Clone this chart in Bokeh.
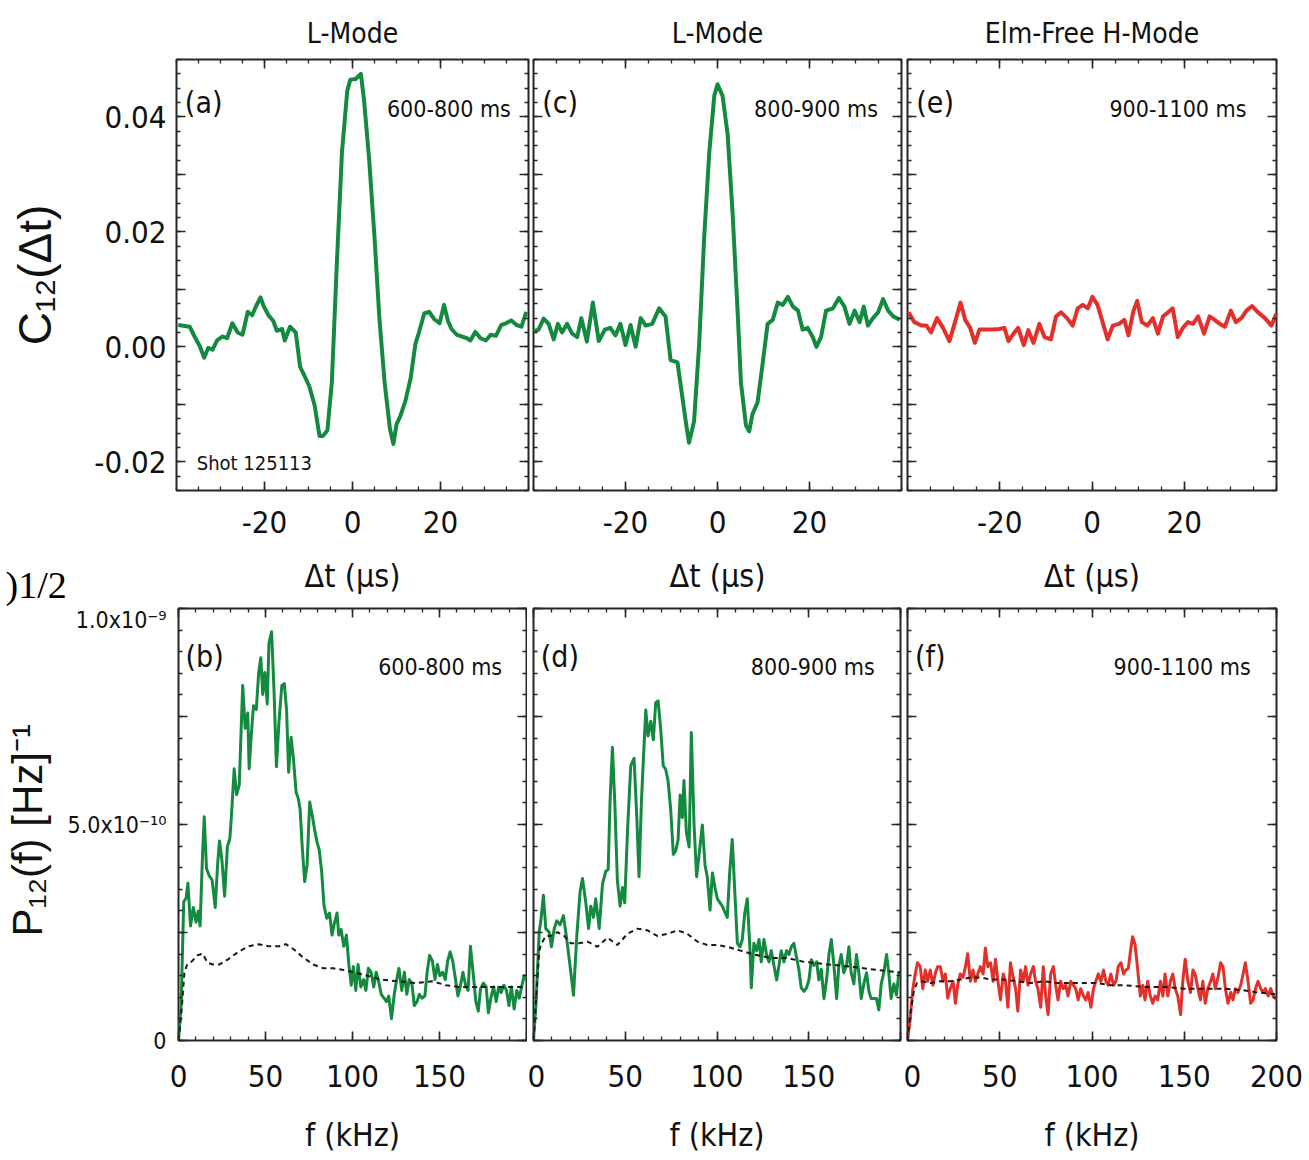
from bokeh.plotting import figure
from bokeh.models import Range1d, FixedTicker, LinearAxis, Label, Title
from bokeh.layouts import row, column
from bokeh.embed import file_html
from bokeh.resources import INLINE
import numpy as np

# ---------------- data ----------------
# (a) L-Mode 600-800 ms, cross-correlation C12(dt)
dt_a = [-39.6, -37.0, -35.9, -34.7, -33.7, -32.8, -31.8, -30.8, -29.6, -28.5, -27.3, -26.1, -25.0, -23.8,
        -22.8, -21.9, -20.9, -20.2, -19.1, -18.0, -17.2, -16.0, -15.4, -14.2, -12.9, -11.9, -11.0, -9.8,
        -8.6, -7.5, -6.7, -5.7, -4.7, -3.6, -2.4, -1.2, -0.5, 0.7, 1.9, 2.6, 3.8, 5.0, 6.1, 7.3, 8.5, 9.3,
        10.0, 10.8, 12.0, 13.2, 14.3, 15.1, 16.3, 17.4, 18.6, 19.8, 20.8, 21.7, 22.5, 23.7, 24.8, 26.0,
        26.8, 27.9, 29.1, 30.3, 31.4, 32.6, 33.8, 34.9, 36.1, 37.3, 38.4, 39.5]
c12_a = [0.0038, 0.0035, 0.0018, 0.0001, -0.0019, -0.0002, -0.0005, 0.0011, 0.0018, 0.0015, 0.0041, 0.0025,
         0.0021, 0.0061, 0.0055, 0.0071, 0.0086, 0.0071, 0.0055, 0.0045, 0.0028, 0.0031, 0.0011, 0.0035,
         0.0025, -0.0035, -0.0049, -0.0069, -0.0102, -0.0155, -0.0155, -0.0145, -0.0062, 0.0138, 0.0338,
         0.0445, 0.0465, 0.0466, 0.0475, 0.0431, 0.0325, 0.0191, 0.0051, -0.0062, -0.0142, -0.0169, -0.0135,
         -0.0122, -0.0095, -0.0055, 0.0005, 0.0025, 0.0058, 0.0061, 0.0048, 0.0041, 0.0073, 0.0045, 0.0031,
         0.0021, 0.0018, 0.0015, 0.0011, 0.0026, 0.0015, 0.0011, 0.0021, 0.0019, 0.0038, 0.0041, 0.0046,
         0.0038, 0.0035, 0.0061]

# (c) L-Mode 800-900 ms
dt_c = [-40.0, -38.9, -37.8, -36.7, -35.6, -34.7, -33.8, -32.7, -31.6, -30.5, -29.6, -28.4, -27.1, -25.8,
        -24.5, -23.3, -22.2, -21.1, -20.0, -18.9, -17.8, -16.7, -15.6, -14.2, -12.7, -11.3, -10.2, -8.7,
        -7.6, -6.9, -6.2, -5.1, -4.0, -2.9, -1.8, -0.7, 0.0, 1.1, 2.2, 3.3, 4.4, 5.1, 6.2, 6.9, 7.6, 8.7,
        9.8, 10.9, 12.0, 13.1, 14.2, 15.3, 16.4, 17.5, 18.5, 19.6, 20.7, 21.5, 22.5, 23.6, 25.1, 26.4, 27.6,
        28.7, 29.8, 30.9, 31.8, 32.7, 33.8, 34.9, 36.0, 37.1, 38.2, 39.6]
c12_c = [0.0027, 0.0030, 0.0049, 0.0040, 0.0013, 0.0040, 0.0025, 0.0040, 0.0023, 0.0017, 0.0050, 0.0009,
         0.0077, 0.0010, 0.0030, 0.0033, 0.0020, 0.0040, 0.0003, 0.0038, 0.0000, 0.0050, 0.0037, 0.0040,
         0.0067, 0.0053, -0.0023, -0.0027, -0.0090, -0.0130, -0.0167, -0.0130, 0.0003, 0.0190, 0.0337,
         0.0437, 0.0457, 0.0437, 0.0370, 0.0230, 0.0057, -0.0063, -0.0137, -0.0147, -0.0117, -0.0097,
         -0.0030, 0.0040, 0.0047, 0.0077, 0.0073, 0.0087, 0.0070, 0.0063, 0.0030, 0.0033, 0.0017, 0.0000,
         0.0017, 0.0063, 0.0067, 0.0085, 0.0070, 0.0040, 0.0063, 0.0043, 0.0070, 0.0037, 0.0050, 0.0060,
         0.0083, 0.0063, 0.0053, 0.0047]

# (e) ELM-free H-Mode 900-1100 ms
dt_e = [-39.8, -38.5, -37.0, -35.9, -34.9, -33.6, -32.3, -30.9, -29.7, -28.5, -27.5, -26.4, -25.4, -24.4,
        -23.0, -21.6, -20.1, -19.0, -18.1, -17.0, -16.0, -14.8, -13.8, -12.7, -11.4, -10.3, -8.9, -7.8,
        -6.7, -5.4, -4.2, -3.1, -2.0, -0.9, 0.1, 1.2, 2.3, 3.4, 4.5, 5.9, 7.0, 7.9, 9.0, 9.8, 10.8, 12.0,
        13.2, 14.3, 15.4, 16.5, 17.5, 18.6, 19.7, 20.8, 21.9, 23.0, 24.3, 25.5, 26.6, 27.7, 28.8, 30.1,
        31.2, 32.4, 33.5, 34.7, 36.0, 37.5, 38.9, 40.0]
c12_e = [0.0060, 0.0043, 0.0037, 0.0037, 0.0025, 0.0050, 0.0033, 0.0010, 0.0043, 0.0077, 0.0047, 0.0033,
         0.0007, 0.0030, 0.0030, 0.0030, 0.0031, 0.0033, 0.0010, 0.0023, 0.0033, 0.0003, 0.0029, 0.0007,
         0.0040, 0.0017, 0.0013, 0.0053, 0.0060, 0.0050, 0.0037, 0.0067, 0.0073, 0.0067, 0.0087, 0.0073,
         0.0043, 0.0013, 0.0037, 0.0040, 0.0047, 0.0020, 0.0063, 0.0080, 0.0043, 0.0037, 0.0050, 0.0023,
         0.0053, 0.0060, 0.0067, 0.0017, 0.0033, 0.0043, 0.0040, 0.0053, 0.0023, 0.0053, 0.0047, 0.0040,
         0.0035, 0.0063, 0.0043, 0.0050, 0.0063, 0.0071, 0.0060, 0.0050, 0.0037, 0.0058]

# (b) cross-power P12(f), in units of 1e-10 Hz^-1
f_b = [0, 1.5, 3.0, 4.4, 5.4, 6.9, 8.5, 10.1, 11.4, 12.4, 13.8, 14.8, 16.1, 17.7, 19.3, 21.1, 22.6, 23.6,
       25.0, 26.5, 28.1, 29.5, 30.4, 32.0, 33.4, 34.9, 36.9, 38.3, 39.8, 40.6, 41.8, 43.1, 44.7, 46.1, 47.3,
       48.4, 49.6, 51.0, 52.0, 53.5, 54.9, 56.3, 57.8, 59.4, 60.8, 62.1, 63.3, 64.7, 66.0, 67.6, 68.8, 69.9,
       71.1, 72.5, 73.9, 75.4, 77.0, 78.4, 79.7, 80.9, 82.3, 83.6, 85.2, 86.8, 88.2, 89.5, 91.1, 92.1, 93.4,
       95.0, 96.5, 97.9, 99.3, 100.5, 101.9, 103.2, 104.8, 106.4, 107.7, 109.1, 110.7, 112.2, 113.6, 115.0,
       116.5, 118.1, 119.5, 120.8, 122.4, 124.0, 125.4, 126.7, 128.3, 129.8, 131.2, 132.6, 134.1, 135.5,
       137.1, 138.4, 140.0, 141.6, 142.9, 144.3, 145.9, 147.4, 148.8, 150.2, 151.8, 153.3, 154.7, 156.1,
       157.6, 159.2, 160.6, 161.9, 163.5, 165.0, 166.4, 167.8, 169.3, 170.9, 172.3, 173.6, 175.2, 176.8,
       178.1, 179.5, 181.1, 182.6, 184.0, 185.4, 187.0, 188.5, 189.9, 191.3, 192.9, 194.4, 195.8, 197.2,
       198.7, 199.7]
p12_b = [0, 0.81, 3.21, 3.30, 3.64, 2.65, 3.08, 2.74, 3.00, 2.65, 4.28, 5.18, 3.98, 3.81, 3.72, 3.08, 4.15,
         4.62, 4.15, 3.34, 4.49, 4.67, 5.18, 6.29, 5.69, 5.91, 8.22, 7.23, 7.58, 6.29, 7.06, 7.75, 7.66, 8.52,
         8.86, 8.01, 8.52, 7.79, 9.20, 9.46, 8.09, 6.34, 7.41, 8.22, 8.26, 7.66, 6.21, 7.02, 6.55, 5.74, 5.61,
         5.35, 4.49, 3.68, 4.07, 5.52, 5.18, 4.84, 4.58, 4.41, 3.90, 3.13, 2.83, 2.95, 2.44, 2.70, 2.95, 2.44,
         2.57, 2.18, 2.44, 1.76, 1.28, 1.71, 1.16, 1.76, 1.24, 1.41, 1.16, 1.67, 1.58, 1.24, 1.58, 1.37, 1.07,
         0.98, 0.90, 1.03, 0.51, 1.07, 1.41, 1.67, 1.16, 1.58, 1.07, 1.41, 1.33, 0.81, 0.90, 1.07, 0.98, 1.03,
         1.58, 1.97, 1.84, 1.41, 1.76, 1.50, 1.58, 1.41, 1.84, 2.05, 1.84, 1.41, 1.03, 1.24, 1.58, 1.28, 1.16,
         2.18, 1.58, 0.90, 0.68, 1.20, 1.33, 1.24, 0.64, 0.98, 1.24, 0.90, 1.24, 1.11, 1.28, 1.16, 0.81, 1.24,
         0.73, 1.16, 0.98, 1.24, 1.50, 1.41]
fn_b = [0, 2.0, 3.4, 5.0, 7.9, 10.8, 13.8, 16.7, 19.7, 23.6, 28.5, 34.3, 40.2, 46.1, 51.9, 57.8, 61.7, 66.6,
        71.4, 77.4, 83.3, 89.1, 95.0, 100.9, 108.7, 116.5, 126.3, 136.1, 145.9, 153.7, 161.5, 171.3, 181.1,
        190.9, 199.7]
noise_b = [0, 0.81, 1.58, 1.76, 1.84, 1.97, 2.01, 1.80, 1.76, 1.76, 1.88, 2.05, 2.18, 2.23, 2.18, 2.18, 2.23,
           2.10, 1.93, 1.76, 1.67, 1.67, 1.63, 1.58, 1.50, 1.41, 1.37, 1.33, 1.37, 1.28, 1.24, 1.24, 1.24,
           1.24, 1.24]

# (d)
f_d = [0, 1.3, 3.1, 4.0, 5.4, 6.7, 8.5, 9.8, 11.3, 12.7, 14.5, 16.3, 17.6, 19.4, 21.8, 23.6, 25.4, 26.7,
       28.5, 30.0, 31.2, 32.7, 33.9, 35.8, 37.6, 39.4, 40.7, 41.7, 43.0, 44.3, 45.7, 47.2, 48.5, 49.7, 51.2,
       53.0, 54.8, 56.3, 57.5, 58.8, 59.9, 61.2, 62.4, 63.9, 65.3, 66.6, 67.9, 69.3, 70.7, 72.0, 73.3, 74.8,
       76.2, 77.5, 78.8, 79.9, 81.1, 82.0, 83.3, 84.8, 86.0, 87.5, 88.9, 90.7, 92.0, 93.5, 94.7, 96.2, 97.5,
       98.9, 100.2, 101.6, 102.9, 104.2, 105.6, 106.9, 108.3, 109.8, 111.1, 112.5, 113.8, 115.1, 116.5,
       118.0, 118.7, 120.1, 121.6, 122.9, 124.1, 125.6, 127.0, 128.3, 129.6, 131.0, 132.5, 133.8, 135.0,
       136.5, 137.9, 139.2, 140.5, 141.9, 143.4, 144.6, 145.9, 147.4, 148.8, 150.1, 151.4, 152.8, 154.3,
       155.5, 156.8, 158.3, 159.7, 161.0, 162.3, 163.7, 165.2, 166.4, 167.7, 169.1, 170.6, 171.9, 173.1,
       174.6, 176.0, 177.3, 178.6, 180.0, 181.5, 182.8, 184.0, 185.5, 186.9, 188.2, 189.5, 190.9, 192.4,
       193.6, 194.9, 196.4, 197.8, 199.1, 200.0]
p12_d = [0, 0.80, 2.51, 2.77, 3.36, 2.59, 2.51, 2.17, 2.59, 2.77, 2.68, 2.89, 2.51, 1.91, 1.05, 2.42, 3.45,
         3.75, 3.19, 2.59, 3.11, 2.85, 3.28, 2.59, 3.62, 3.92, 3.96, 5.51, 6.79, 5.51, 3.71, 3.11, 3.54, 3.19,
         4.82, 6.36, 6.53, 5.16, 3.79, 5.51, 6.53, 7.65, 7.05, 7.39, 6.96, 7.82, 7.86, 7.22, 6.36, 6.28, 6.02,
         5.33, 4.31, 4.39, 4.65, 5.68, 5.16, 6.02, 4.82, 4.48, 7.13, 4.99, 3.79, 4.48, 4.99, 4.05, 3.79, 3.02,
         3.88, 3.54, 3.28, 3.19, 3.11, 2.98, 2.85, 3.88, 4.65, 3.36, 2.25, 2.17, 2.34, 2.94, 3.28, 2.08, 1.22,
         2.25, 2.08, 2.34, 1.82, 2.34, 1.99, 1.82, 2.08, 1.74, 1.40, 1.74, 2.08, 1.82, 2.08, 1.99, 2.17, 2.25,
         1.91, 1.65, 1.22, 1.14, 1.22, 1.40, 1.87, 1.74, 1.82, 1.40, 1.65, 0.97, 1.40, 1.99, 2.34, 1.74, 0.97,
         1.74, 1.99, 1.57, 1.74, 2.17, 1.57, 1.31, 1.99, 1.57, 0.97, 1.31, 1.57, 1.14, 0.97, 0.97, 0.97, 0.71,
         1.31, 1.57, 1.99, 1.57, 0.97, 1.31, 1.05, 1.57, 1.48]
fn_d = [0, 1.8, 3.1, 4.4, 6.7, 9.4, 13.1, 16.7, 20.3, 24.9, 29.4, 34.8, 40.3, 45.7, 51.2, 56.6, 62.1, 67.5,
        73.0, 78.4, 83.8, 89.3, 94.7, 100.2, 105.6, 112.9, 120.1, 129.2, 138.3, 147.4, 156.4, 165.5, 174.6,
        183.7, 192.7, 200.0]
noise_d = [0, 1.22, 2.08, 2.25, 2.42, 2.42, 2.51, 2.42, 2.25, 2.25, 2.29, 2.17, 2.38, 2.21, 2.47, 2.59, 2.55,
           2.42, 2.47, 2.55, 2.47, 2.29, 2.21, 2.21, 2.17, 2.08, 1.99, 1.91, 1.91, 1.82, 1.78, 1.74, 1.70,
           1.65, 1.61, 1.57]

# (f)
f_f = [0, 1.5, 2.9, 4.2, 5.4, 6.9, 8.3, 9.6, 10.9, 12.3, 13.8, 15.0, 16.3, 17.8, 19.2, 20.5, 21.8, 23.2,
       24.7, 26.0, 27.2, 28.6, 30.1, 31.4, 32.6, 34.1, 35.5, 36.8, 38.1, 39.5, 41.0, 42.2, 43.5, 45.0, 46.4,
       47.7, 49.0, 50.4, 51.9, 53.1, 54.4, 55.8, 57.3, 58.6, 59.8, 61.3, 62.7, 64.0, 65.3, 66.7, 68.2, 69.4,
       70.7, 72.2, 73.6, 74.9, 76.2, 77.6, 79.1, 80.3, 81.6, 83.0, 84.5, 85.8, 87.0, 88.5, 89.9, 91.2, 92.5,
       93.9, 95.4, 96.6, 97.9, 99.4, 100.8, 102.1, 103.4, 104.8, 106.3, 107.5, 108.8, 110.2, 111.7, 113.0,
       114.2, 115.7, 117.1, 118.4, 119.7, 120.8, 122.0, 123.3, 124.8, 126.2, 127.5, 128.7, 130.2, 131.6,
       132.9, 134.2, 135.6, 137.1, 138.4, 139.6, 141.1, 142.5, 143.8, 145.1, 146.5, 148.0, 149.2, 150.5,
       152.0, 153.4, 154.7, 155.9, 157.4, 158.8, 160.1, 161.4, 162.8, 164.3, 165.5, 166.8, 168.3, 169.7,
       171.0, 172.3, 173.7, 175.2, 176.4, 177.7, 179.1, 180.6, 181.9, 183.1, 184.6, 186.0, 187.3, 188.6,
       190.0, 191.5, 192.7, 194.0, 195.5, 196.9, 198.2, 200.0]
p12_f = [0, 0.51, 1.20, 1.54, 1.80, 1.71, 1.20, 1.63, 1.37, 1.63, 1.28, 1.54, 1.71, 1.71, 1.37, 1.54, 0.98,
         1.20, 1.37, 0.86, 1.28, 1.54, 1.46, 1.71, 2.01, 1.37, 1.63, 1.37, 1.54, 1.71, 1.54, 2.14, 1.71, 1.80,
         1.37, 1.88, 1.37, 0.94, 1.54, 1.37, 0.77, 1.80, 1.46, 1.20, 0.68, 1.63, 1.37, 1.71, 1.28, 1.54, 1.71,
         1.37, 1.20, 0.77, 1.71, 1.03, 0.60, 1.54, 1.71, 1.28, 0.94, 1.37, 1.20, 1.28, 1.03, 1.37, 1.28, 1.20,
         0.94, 1.20, 1.03, 0.94, 1.11, 0.77, 1.20, 1.37, 1.54, 1.37, 1.63, 1.37, 1.28, 1.54, 1.28, 1.37, 1.71,
         1.80, 1.54, 1.63, 1.67, 2.05, 2.40, 2.23, 1.63, 1.03, 1.28, 0.94, 1.37, 1.03, 0.86, 1.03, 0.94, 1.37,
         1.03, 1.54, 1.03, 1.37, 1.54, 1.20, 1.03, 0.60, 1.37, 1.88, 1.37, 1.11, 1.63, 1.54, 1.20, 0.94, 1.37,
         0.86, 1.20, 1.37, 1.54, 1.20, 1.46, 1.80, 1.71, 1.20, 0.86, 1.11, 0.94, 1.20, 1.11, 1.28, 1.54, 1.80,
         1.37, 0.86, 0.94, 1.20, 1.37, 1.20, 1.11, 1.20, 1.03, 1.20, 1.03, 0.94]
fn_f = [0, 1.5, 3.3, 5.1, 7.8, 12.3, 17.8, 23.2, 28.6, 34.1, 39.5, 45.0, 52.2, 59.5, 66.7, 74.0, 81.2, 88.5,
        95.7, 103.0, 110.2, 117.5, 128.4, 139.3, 150.1, 161.0, 171.9, 182.8, 190.0, 200.0]
noise_f = [0, 0.60, 1.11, 1.33, 1.37, 1.33, 1.37, 1.37, 1.41, 1.46, 1.46, 1.41, 1.41, 1.37, 1.33, 1.37, 1.33,
           1.33, 1.33, 1.33, 1.28, 1.28, 1.24, 1.24, 1.20, 1.20, 1.20, 1.16, 1.11, 1.07]

# tick labels
dt_ticks = [-20, 0, 20]
c12_tick_labels = {-0.02: "-0.02", -0.01: "", 0.0: "0.00", 0.01: "", 0.02: "0.02", 0.03: "", 0.04: "0.04"}
f_ticks = [0, 50, 100, 150, 200]
p12_tick_labels = {0.0: "0", 2.5: "", 5.0: "5.0x10\u207b\u00b9\u2070", 7.5: "", 10.0: "1.0x10\u207b\u2079"}

# ---------------- styling ----------------
NARROW = "'DejaVu Sans Condensed', 'Liberation Sans Narrow', sans-serif"
WIDE = "'Liberation Sans', Arial, sans-serif"
SERIF = "'Liberation Serif', 'DejaVu Serif', serif"
INK = "#262626"
TXT = "#111111"
GREEN = "#138a3f"
RED = "#e3302a"


def make_fig(width, height, bl, br, bt, bb, xr, yr, title=None):
    p = figure(width=width, height=height, x_range=Range1d(*xr), y_range=Range1d(*yr),
               output_backend="svg", toolbar_location=None,
               min_border_left=bl, min_border_right=br, min_border_top=bt, min_border_bottom=bb,
               x_axis_location=None, y_axis_location=None)
    p.grid.visible = False
    p.outline_line_color = INK
    p.outline_line_width = 2
    p.background_fill_color = "white"
    p.border_fill_color = "white"
    if title:
        p.title.text = title
        p.title.align = "center"
        p.title.text_font = NARROW
        p.title.text_font_size = "28px"
        p.title.text_font_style = "normal"
        p.title.text_color = TXT
        p.title.standoff = 19
    return p


def axis(ticks, minor, labels=None, font_size="32px", standoff=14, title=None,
         title_size="32px", title_standoff=14, title_font=NARROW, baseline=None):
    ax = LinearAxis(ticker=FixedTicker(ticks=ticks, minor_ticks=minor))
    ax.axis_line_color = None
    ax.major_tick_in = 9
    ax.major_tick_out = 0
    ax.minor_tick_in = 4
    ax.minor_tick_out = 0
    ax.major_tick_line_color = INK
    ax.major_tick_line_width = 1.6
    ax.minor_tick_line_color = INK
    ax.minor_tick_line_width = 1.3
    if labels is None:
        ax.major_label_text_font_size = "0px"
        ax.major_label_standoff = 0
        ax.major_label_text_color = None
    else:
        ax.major_label_overrides = labels
        ax.major_label_text_font = NARROW
        ax.major_label_text_font_size = font_size
        ax.major_label_text_color = TXT
        ax.major_label_standoff = standoff
        if baseline:
            ax.major_label_text_baseline = baseline
    if title:
        ax.axis_label = title
        ax.axis_label_text_font = title_font
        ax.axis_label_text_font_size = title_size
        ax.axis_label_text_font_style = "normal"
        ax.axis_label_text_color = TXT
        ax.axis_label_standoff = title_standoff
    return ax


def note(p, x, y, text, size, align="left", font=NARROW, baseline="middle"):
    p.add_layout(Label(x=x, y=y, text=text, text_font=font, text_font_size=size,
                       text_baseline=baseline, text_align=align, text_color=TXT))


dt_minor = list(range(-40, 41, 5))
c12_major = [-0.02, -0.01, 0.0, 0.01, 0.02, 0.03, 0.04]
c12_minor = [round(v, 4) for v in np.arange(-0.025, 0.0501, 0.0025)]
f_minor = list(range(0, 201, 10))
p12_major = [0.0, 2.5, 5.0, 7.5, 10.0]
p12_minor = [round(v, 2) for v in np.arange(0, 10.01, 0.5)]


def top_panel(width, bl, br, x, y, color, title, tag, window, wx, ylab=None, ytitle=None):
    p = make_fig(width, 606, bl, br, 59, 116, (-40, 40), (-0.025, 0.050), title)
    p.add_layout(axis(dt_ticks, dt_minor, labels={-20: "-20", 0: "0", 20: "20"},
                      font_size="31px", standoff=20, title="\u0394t (\u03bcs)", title_size="32px",
                      title_standoff=21), "below")
    p.add_layout(axis(dt_ticks, dt_minor), "above")
    p.add_layout(axis(c12_major, c12_minor, labels=ylab, font_size="31px", standoff=10,
                      title=ytitle, title_size="46px", title_standoff=30, title_font=WIDE), "left")
    p.add_layout(axis(c12_major, c12_minor), "right")
    p.line(x, y, line_color=color, line_width=4, line_join="round")
    note(p, -38.1, 0.0425, tag, "30px")
    note(p, wx, 0.0413, window, "23px", align="right")
    return p


fa = top_panel(530, 176, 2, dt_a, c12_a, GREEN, "L-Mode", "(a)", "600-800 ms", 36.0,
               ylab=c12_tick_labels, ytitle="C\u2081\u2082(\u0394t)")
note(fa, -35.4, -0.0203, "Shot 125113", "20px")
# stray fragment of neighbouring page text at the bottom-left corner of the top row
fa.add_layout(Title(text=")1/2\n\u00a0", align="left", offset=-171, standoff=-100,
                    vertical_align="bottom", text_font=SERIF, text_font_size="38px",
                    text_font_style="normal", text_color="#000000"), "below")

fc = top_panel(373, 3, 2, dt_c, c12_c, GREEN, "L-Mode", "(c)", "800-900 ms", 34.9)
fe = top_panel(406, 4, 33, dt_e, c12_e, RED, "Elm-Free H-Mode", "(e)", "900-1100 ms", 33.5)


def bottom_panel(width, bl, br, f, p12, fn, noise, color, tag, window, xlabels, ylab=None, ytitle=None):
    p = make_fig(width, 554, bl, br, 2, 120, (0, 200), (0, 10))
    p.add_layout(axis(f_ticks, f_minor, labels=xlabels, font_size="31px", standoff=24,
                      title="f (kHz)", title_size="32px", title_standoff=26), "below")
    p.add_layout(axis(f_ticks, f_minor), "above")
    p.add_layout(axis(p12_major, p12_minor, labels=ylab, font_size="23px", standoff=12,
                      title=ytitle, title_size="42px", title_standoff=14, title_font=WIDE,
                      baseline="top"), "left")
    p.add_layout(axis(p12_major, p12_minor), "right")
    p.line(f, p12, line_color=color, line_width=3, line_join="round")
    p.line(fn, noise, line_color="#1a1a1a", line_width=2, line_dash="5 4")
    note(p, 4.0, 8.9, tag, "30px")
    note(p, 186.0, 8.65, window, "23px", align="right")
    return p


xl_no200 = {0: "0", 50: "50", 100: "100", 150: "150", 200: ""}
xl_all = {0: "0", 50: "50", 100: "100", 150: "150", 200: "200"}
fb = bottom_panel(527, 173, 1, f_b, p12_b, fn_b, noise_b, GREEN, "(b)", "600-800 ms", xl_no200,
                  ylab=p12_tick_labels, ytitle="P\u2081\u2082(f)  [Hz]\u207b\u00b9")
fd = bottom_panel(376, 6, 3, f_d, p12_d, fn_d, noise_d, GREEN, "(d)", "800-900 ms", xl_no200)
ff = bottom_panel(406, 4, 33, f_f, p12_f, fn_f, noise_f, RED, "(f)", "900-1100 ms", xl_all)

layout = column(row(fa, fc, fe), row(fb, fd, ff))

with open("out.html", "w") as fh:
    fh.write(file_html(layout, INLINE))
